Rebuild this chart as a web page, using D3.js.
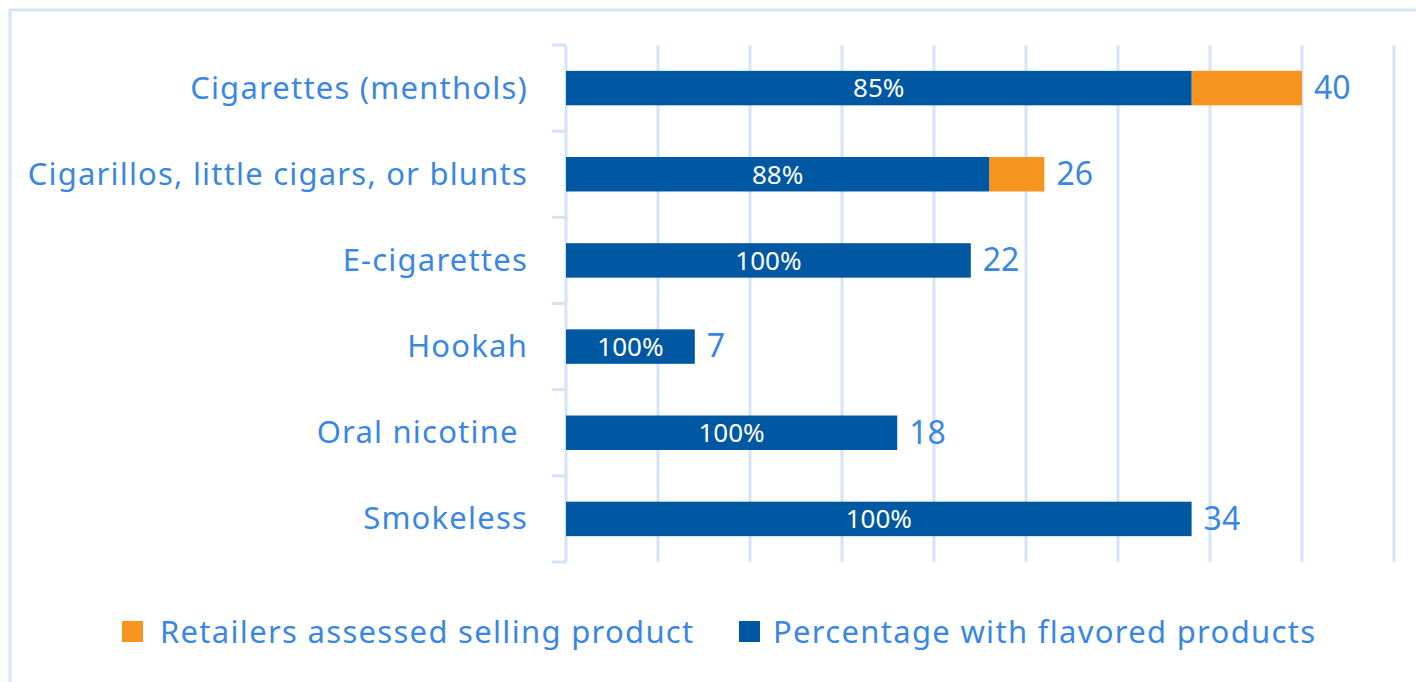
<!DOCTYPE html>
<html><head><meta charset="utf-8">
<script src="https://cdn.jsdelivr.net/npm/d3@7"></script>
<style>html,body{margin:0;padding:0;background:#fff;}svg{display:block;}</style>
</head><body>
<svg id="chart" width="1416" height="682"></svg>
<script>
const categories = ["Cigarettes (menthols)", "Cigarillos, little cigars, or blunts", "E-cigarettes", "Hookah", "Oral nicotine\u00a0", "Smokeless"];
const retailers = [40, 26, 22, 7, 18, 34];
const flavored = [34, 23, 22, 7, 18, 34];
const pctLabels = ["85%", "88%", "100%", "100%", "100%", "100%"];
const xTicks = [0, 5, 10, 15, 20, 25, 30, 35, 40, 45];
const seriesNames = ["Retailers assessed selling product", "Percentage with flavored products"];

const blue = "#0057a2", orange = "#f79420", textBlue = "#3a87e2", grid = "#d3e4f7";
const font = "'Noto Sans', 'Open Sans', sans-serif";

const svg = d3.select("#chart");
svg.append("rect").attr("x", 10).attr("y", 10).attr("width", 1420).attr("height", 690)
  .attr("fill", "none").attr("stroke", grid).attr("stroke-width", 3);

const x = d3.scaleLinear().domain([0, 45]).range([566, 1394]);
const y = d3.scaleBand().domain(categories).range([45, 562]).paddingInner(0.6).paddingOuter(0.3);

// gridlines
svg.append("g").selectAll("line").data(xTicks).join("line")
  .attr("x1", d => x(d)).attr("x2", d => x(d)).attr("y1", 45).attr("y2", 562)
  .attr("stroke", grid).attr("stroke-width", 3);

// category axis ticks at band boundaries
const bounds = categories.map(c => y(c) - y.step() * y.paddingInner() / 2).concat([562]);
bounds[0] = 45;
svg.append("g").selectAll("line").data(bounds).join("line")
  .attr("x1", 552).attr("x2", x(0)).attr("y1", d => d).attr("y2", d => d)
  .attr("stroke", grid).attr("stroke-width", 3);

const data = categories.map((c, i) => ({c, total: retailers[i], flav: flavored[i], pct: pctLabels[i]}));

// orange segments
svg.append("g").selectAll("rect").data(data.filter(d => d.total > d.flav)).join("rect")
  .attr("x", d => x(d.flav)).attr("y", d => y(d.c))
  .attr("width", d => x(d.total) - x(d.flav)).attr("height", y.bandwidth())
  .attr("fill", orange);
// blue segments
svg.append("g").selectAll("rect").data(data).join("rect")
  .attr("x", x(0)).attr("y", d => y(d.c))
  .attr("width", d => x(d.flav) - x(0)).attr("height", y.bandwidth())
  .attr("fill", blue);

// inside labels
svg.append("g").selectAll("text").data(data).join("text")
  .attr("x", d => (x(0) + x(d.flav)) / 2).attr("y", d => y(d.c) + y.bandwidth() / 2)
  .attr("dy", "0.36em").attr("text-anchor", "middle")
  .attr("fill", "#fff").attr("font-family", font).attr("font-size", 26)
  .text(d => d.pct);

// total labels
svg.append("g").selectAll("text").data(data).join("text")
  .attr("x", d => x(d.total) + 12).attr("y", d => y(d.c) + y.bandwidth() / 2)
  .attr("dy", "0.34em").attr("fill", textBlue).attr("font-family", font).attr("font-size", 32)
  .text(d => d.total);

// category labels
svg.append("g").selectAll("text").data(categories).join("text")
  .attr("x", 528).attr("y", d => y(d) + y.bandwidth() / 2)
  .attr("dy", "0.34em").attr("text-anchor", "end")
  .attr("fill", textBlue).attr("font-family", font).attr("font-size", 31)
  .attr("letter-spacing", 1.2)
  .style("white-space", "pre")
  .text(d => d);

// legend
const leg = [{name: seriesNames[0], color: orange, x: 122, tx: 160}, {name: seriesNames[1], color: blue, x: 739, tx: 773}];
const lg = svg.append("g").selectAll("g").data(leg).join("g");
lg.append("rect").attr("x", d => d.x).attr("y", 621).attr("width", 21).attr("height", 21).attr("fill", d => d.color);
lg.append("text").attr("x", d => d.tx).attr("y", 632).attr("dy", "0.36em")
  .attr("fill", textBlue).attr("font-family", font).attr("font-size", 31)
  .attr("letter-spacing", 1.3).text(d => d.name);
</script>
</body></html>
